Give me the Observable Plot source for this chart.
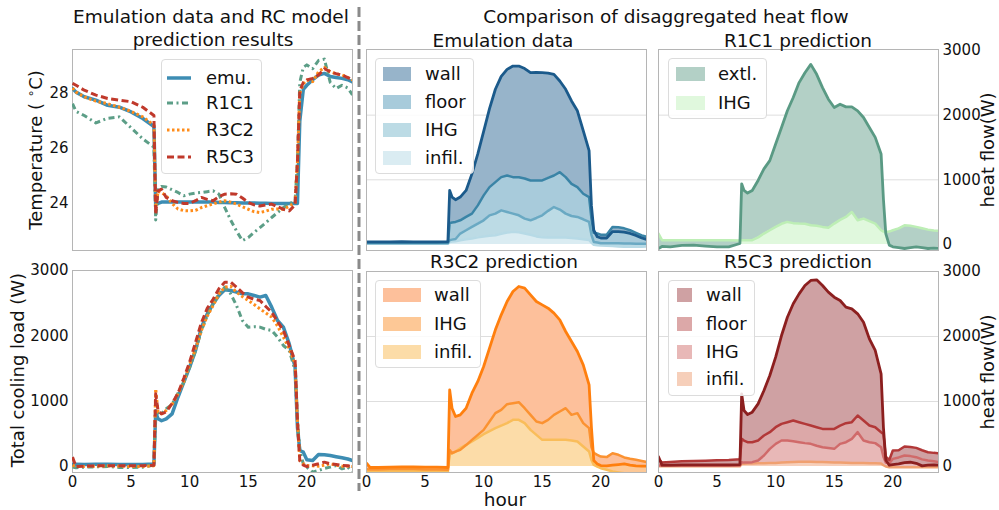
<!DOCTYPE html>
<html>
<head>
<meta charset="utf-8">
<script src="https://cdn.jsdelivr.net/npm/d3@7"></script>
<script src="https://cdn.jsdelivr.net/npm/@observablehq/plot@0.6"></script>
<style>
  html, body { margin: 0; padding: 0; background: white; }
  #root { position: relative; width: 999px; height: 510px; overflow: hidden; font-family: "DejaVu Sans", sans-serif; color: #111; }
  .ctr { position: absolute; transform: translate(-50%, -50%); white-space: nowrap; font-size: 18.5px; line-height: 1; }
  .rot { position: absolute; transform: translate(-50%, -50%) rotate(-90deg); white-space: nowrap; font-size: 18px; line-height: 1; }
  .legend { position: absolute; border: 1px solid #dcdcdc; border-radius: 4px; background: rgba(255,255,255,0.85); box-sizing: border-box; }
  .legend .txt { position: absolute; transform: translateY(-50%); font-size: 18px; white-space: nowrap; line-height: 1; }
  .legend .patch { position: absolute; transform: translateY(-50%); }
  .legend svg { position: absolute; overflow: visible; }
  .plotwrap { position: absolute; }
  .plotwrap svg { overflow: visible; background: transparent; }
</style>
</head>
<body>
<div id="root"></div>
<script>
// ---------------- DATA ----------------
const hours = [0, 0.3, 1, 2, 3, 4, 5, 6, 6.95, 7.1, 7.3, 7.6, 8, 8.5, 9, 9.5, 10, 10.5, 11, 11.5, 12, 12.5, 13, 13.5, 14, 14.5, 15, 15.5, 16, 16.5, 17, 17.5, 18, 18.5, 19, 19.2, 19.4, 19.7, 20, 20.5, 21, 21.5, 22, 22.5, 23, 23.5, 23.9];

// Temperature (°C)
const tempEmu  = [28.18, 28.05, 27.88, 27.76, 27.57, 27.5, 27.33, 27.09, 26.8, 23.95, 24.0, 24.05, 24.05, 24.05, 24.05, 24.05, 24.05, 24.05, 24.05, 24.05, 24.05, 24.04, 24.04, 24.03, 24.03, 24.02, 24.02, 24.02, 24.01, 24.01, 24.0, 24.0, 24.0, 24.0, 24.0, 24.0, 27.0, 28.15, 28.3, 28.5, 28.67, 28.73, 28.62, 28.58, 28.55, 28.5, 28.42];
const tempR1C1 = [27.63, 27.35, 27.2, 26.93, 27.1, 27.15, 26.75, 26.35, 26.05, 23.4, 24.55, 24.62, 24.6, 24.5, 24.4, 24.28, 24.34, 24.38, 24.4, 24.43, 24.46, 24.34, 23.85, 23.4, 23.0, 22.65, 22.76, 22.95, 23.12, 23.3, 23.49, 23.67, 23.85, 23.98, 24.1, 25.5, 28.4, 28.95, 29.04, 28.9, 29.2, 29.25, 28.4, 28.18, 28.3, 28.2, 27.95];
const tempR3C2 = [28.2, 28.05, 27.88, 27.72, 27.63, 27.5, 27.35, 27.15, 26.85, 23.85, 24.45, 24.4, 24.28, 24.0, 23.8, 23.74, 23.73, 23.75, 23.85, 23.92, 23.98, 24.05, 24.1, 24.05, 23.98, 23.88, 23.79, 23.7, 23.67, 23.72, 23.79, 23.8, 23.79, 23.9, 24.04, 25.5, 28.0, 28.35, 28.49, 28.43, 28.79, 28.95, 28.79, 28.72, 28.67, 28.58, 28.49];
const tempR5C3 = [28.37, 28.3, 28.12, 27.94, 27.82, 27.76, 27.7, 27.5, 27.2, 23.6, 24.46, 24.52, 24.22, 24.1, 24.04, 24.0, 24.0, 24.1, 24.22, 24.15, 24.1, 24.25, 24.34, 24.35, 24.34, 24.2, 24.04, 23.95, 23.91, 23.95, 23.98, 23.88, 23.79, 23.73, 23.95, 25.5, 28.1, 28.4, 28.49, 28.55, 28.67, 28.9, 28.79, 28.72, 28.67, 28.58, 28.49];

// Total cooling load (W)
const loadEmu  = [30, 35, 30, 35, 35, 30, 30, 30, 40, 830, 730, 700, 730, 806, 1060, 1290, 1520, 1775, 2130, 2335, 2490, 2617, 2704, 2694, 2668, 2643, 2643, 2617, 2592, 2617, 2439, 2235, 2133, 1877, 1520, 600, 245, 220, 102, 92, 184, 180, 168, 150, 133, 115, 92];
const loadR1C1 = [-10, -20, -10, -5, 0, -15, -15, -10, 20, 857, 820, 806, 883, 950, 1120, 1290, 1520, 1770, 2080, 2310, 2490, 2640, 2745, 2643, 2464, 2235, 2133, 2140, 2133, 2100, 2082, 1980, 1852, 1776, 1469, 700, 245, 41, -10, -87, -61, -30, -10, 15, -36, -10, -87];
const loadR3C2 = [20, 0, 0, 5, 10, 5, 0, 0, 10, 1189, 831, 806, 857, 950, 1110, 1300, 1560, 1800, 2080, 2300, 2464, 2640, 2745, 2760, 2668, 2600, 2541, 2480, 2413, 2350, 2286, 2150, 1980, 1800, 1571, 700, 92, 40, 15, 10, 5, 20, 41, 20, 5, 5, 0];
const loadR5C3 = [143, 0, 5, 10, 10, 10, 10, 10, 20, 1112, 857, 806, 836, 964, 1120, 1350, 1600, 1900, 2200, 2420, 2560, 2720, 2822, 2822, 2745, 2660, 2592, 2560, 2541, 2450, 2362, 2220, 2082, 1850, 1622, 700, 92, 20, 0, 20, 41, 66, 41, 30, 15, 10, 0];

// Emulation data: cumulative heat-flow boundaries (W)
const emuWallTop  = [41, 41, 41, 41, 45, 41, 41, 41, 45, 836, 733, 692, 733, 836, 1092, 1400, 1750, 2100, 2400, 2600, 2708, 2759, 2759, 2720, 2656, 2660, 2656, 2650, 2631, 2528, 2400, 2220, 2067, 1759, 1451, 600, 220, 120, 100, 100, 200, 200, 190, 170, 140, 100, 80];
const emuFloorTop = [30, 30, 30, 30, 30, 30, 30, 30, 30, 333, 340, 349, 374, 426, 477, 605, 759, 887, 964, 1041, 1067, 1041, 1041, 1020, 990, 990, 990, 1030, 1067, 1118, 1041, 938, 887, 785, 733, 400, 180, 170, 150, 150, 270, 265, 250, 220, 180, 140, 120];
const emuIHGTop   = [20, 20, 20, 20, 20, 20, 20, 20, 20, 67, 75, 85, 169, 220, 272, 323, 374, 450, 477, 528, 503, 477, 451, 400, 374, 410, 451, 520, 579, 540, 477, 440, 426, 390, 349, 150, 40, 30, 20, 20, 20, 20, 15, 15, 10, 10, 10];
const emuInfilTop = [10, 10, 10, 10, 10, 10, 10, 10, 10, 40, 45, 50, 65, 80, 92, 110, 125, 135, 144, 165, 185, 195, 190, 170, 150, 125, 110, 108, 108, 108, 108, 100, 92, 80, 70, 30, -5, -10, -15, -20, -25, -30, -36, -36, -36, -36, -30];

// R1C1 prediction
const r1ExtlTop = [-62, -30, -36, -15, -10, -25, -36, -36, 15, 938, 836, 795, 836, 990, 1169, 1297, 1554, 1810, 2067, 2272, 2503, 2656, 2785, 2631, 2426, 2246, 2118, 2169, 2128, 2128, 2067, 1964, 1810, 1656, 1400, 700, 169, -10, -36, -50, -62, -50, -36, -50, -62, -55, -62];
const r1IHGTop  = [169, 67, 67, 67, 67, 67, 67, 67, 60, 67, 67, 67, 67, 110, 169, 220, 272, 320, 349, 330, 323, 320, 297, 290, 272, 260, 323, 380, 426, 503, 374, 400, 360, 323, 220, 200, 195, 200, 220, 250, 297, 290, 272, 250, 230, 215, 210];

// R3C2 prediction
const r3WallTop  = [51, -15, -15, -10, -5, -5, -10, -10, -15, 1179, 897, 769, 795, 897, 1128, 1308, 1538, 1821, 2103, 2333, 2538, 2692, 2769, 2744, 2641, 2538, 2487, 2436, 2359, 2256, 2077, 1923, 1769, 1564, 1256, 600, 92, 40, 15, 10, 20, 30, 41, 20, 10, 5, 5];
const r3IHGTop   = [-40, -45, -45, -40, -35, -40, -45, -45, -50, 256, 205, 230, 256, 330, 410, 487, 564, 692, 821, 872, 959, 974, 990, 897, 795, 692, 667, 718, 795, 846, 897, 795, 821, 667, 590, 300, 210, 180, 154, 145, 205, 180, 140, 120, 103, 85, 70];
const r3InfilTop = [-70, -77, -77, -70, -60, -65, -70, -75, -77, 205, 200, 230, 282, 333, 385, 440, 497, 545, 590, 630, 667, 718, 718, 667, 564, 487, 410, 410, 410, 410, 410, 400, 385, 308, 231, 100, 26, 0, -26, -50, -77, -90, -103, -110, -115, -118, -120];

// R5C3 prediction
const r5WallTop  = [150, 20, 20, 25, 25, 25, 25, 25, 30, 1118, 862, 800, 836, 964, 1169, 1400, 1682, 2015, 2297, 2503, 2656, 2785, 2862, 2872, 2785, 2682, 2605, 2554, 2451, 2426, 2349, 2220, 1964, 1785, 1426, 600, 100, 20, 30, 40, 60, 66, 50, 10, 20, 25, 20];
const r5FloorTop = [120, 60, 70, 80, 85, 90, 95, 100, 110, 426, 400, 374, 374, 400, 477, 528, 605, 656, 682, 708, 682, 656, 631, 605, 579, 579, 579, 630, 667, 682, 785, 708, 631, 605, 528, 500, 150, 100, 246, 250, 308, 300, 287, 250, 220, 210, 205];
const r5IHGTop   = [15, 15, 15, 15, 15, 15, 15, 15, 15, 67, 60, 60, 67, 92, 169, 272, 349, 400, 400, 390, 374, 360, 349, 320, 297, 285, 272, 349, 374, 426, 528, 400, 374, 360, 297, 150, 60, 50, 118, 140, 169, 160, 144, 110, 92, 80, 67];
const r5InfilTop = [5, 5, 5, 5, 5, 5, 5, 5, 5, 41, 42, 45, 48, 50, 52, 54, 56, 60, 65, 70, 72, 72, 72, 70, 68, 65, 62, 60, 58, 56, 55, 53, 51, 50, 45, 20, 0, -10, -10, -10, -10, -10, -10, -10, -10, -10, -10];

// Ticks
const hourTicks = [0, 5, 10, 15, 20];
const tempTicks = [24, 26, 28];
const flowTicks = [0, 1000, 2000, 3000];
const flowGrid  = [1000, 2000];

// ---------------- DRAWING ----------------
const root = document.getElementById("root");
const FONT = "DejaVu Sans";
const xDomain = [0, 23.9];

function addPlot(frameLeft, frameTop, w, h, m, opts) {
  const svg = Plot.plot({
    width: w + m.l + m.r,
    height: h + m.t + m.b,
    marginLeft: m.l, marginRight: m.r, marginTop: m.t, marginBottom: m.b,
    style: { fontFamily: FONT, fontSize: "15px", color: "#111", background: "transparent", overflow: "visible" },
    x: Object.assign({ domain: xDomain, label: null, tickSize: 0, tickPadding: 4 }, opts.x),
    y: Object.assign({ label: null, tickSize: 0, tickPadding: 4 }, opts.y),
    marks: opts.marks
  });
  const wrap = document.createElement("div");
  wrap.className = "plotwrap";
  wrap.style.left = (frameLeft - m.l) + "px";
  wrap.style.top = (frameTop - m.t) + "px";
  wrap.appendChild(svg);
  root.appendChild(wrap);
}

const frameMark = () => Plot.frame({ stroke: "#b5b5b5", strokeWidth: 1 });
const gridMark = () => Plot.ruleY(flowGrid, { stroke: "#dedede", strokeWidth: 1 });

function line(ys, stroke, sw, dash) {
  const o = { x: hours, y: ys, stroke, strokeWidth: sw, strokeLinejoin: "round", strokeLinecap: dash ? "butt" : "round", clip: true };
  if (dash) o.strokeDasharray = dash;
  return Plot.line(hours, o);
}
function band(lo, hi, fill) {
  const o = { x: hours, y2: hi, fill, clip: true };
  if (lo) o.y1 = lo;
  return Plot.areaY(hours, o);
}

// colours
const C = {
  emu: "#3d8db3", r1: "#5c9e87", r3: "#ff8c1a", r5: "#c0392b",
  eWallF: "#97b4ca", eFloorF: "#a8cbdb", eIHGF: "#bcdbe5", eInfF: "#daecf2",
  eWallL: "#1b5a8b", eFloorL: "#3a84a6", eIHGL: "#6aa9c3", eInfL: "#b7dae6",
  r1ExtF: "#b3d0c6", r1IHGF: "#e0f8dd", r1ExtL: "#5a9a84", r1IHGL: "#bdeeb5",
  r3WallF: "#fdc09b", r3IHGF: "#fdc896", r3InfF: "#fcdca8",
  r3WallL: "#ff7f0e", r3IHGL: "#fb9231", r3InfL: "#f9bd5a",
  r5WallF: "#cfa1a3", r5FloorF: "#dca8a8", r5IHGF: "#e8b8b7", r5InfF: "#f6cfba",
  r5WallL: "#8c1f1f", r5FloorL: "#b23838", r5IHGL: "#d06a6a", r5InfL: "#f0a070"
};

// Panel 1: temperature
addPlot(72, 49, 280, 201, { l: 40, r: 4, t: 4, b: 4 }, {
  x: { axis: null },
  y: { domain: [22.29, 29.6], ticks: tempTicks, tickFormat: d => String(d) },
  marks: [
    frameMark(),
    line(tempEmu, C.emu, 3.5),
    line(tempR1C1, C.r1, 3, "6,3.5,2,3.5"),
    line(tempR3C2, C.r3, 3, "2.5,2.5"),
    line(tempR5C3, C.r5, 3, "7,3.5")
  ]
});

// Panel 2: cooling load
addPlot(72, 270, 280, 202, { l: 50, r: 4, t: 4, b: 22 }, {
  x: { ticks: hourTicks, tickFormat: d => String(d) },
  y: { domain: [-92, 3000], ticks: flowTicks, tickFormat: d => String(d) },
  marks: [
    frameMark(),
    line(loadEmu, C.emu, 3.5),
    line(loadR1C1, C.r1, 3, "6,3.5,2,3.5"),
    line(loadR3C2, C.r3, 3, "2.5,2.5"),
    line(loadR5C3, C.r5, 3, "7,3.5")
  ]
});

// Panel 3: emulation data
addPlot(366, 49, 280, 201, { l: 4, r: 4, t: 4, b: 4 }, {
  x: { axis: null },
  y: { domain: [-93, 3015], axis: null },
  marks: [
    gridMark(),
    band(null, emuInfilTop, C.eInfF),
    band(emuInfilTop, emuIHGTop, C.eIHGF),
    band(emuIHGTop, emuFloorTop, C.eFloorF),
    band(emuFloorTop, emuWallTop, C.eWallF),
    line(emuInfilTop, C.eInfL, 2.5),
    line(emuIHGTop, C.eIHGL, 2.5),
    line(emuFloorTop, C.eFloorL, 2.5),
    line(emuWallTop, C.eWallL, 2.8),
    frameMark()
  ]
});

// Panel 4: R1C1 prediction
addPlot(658, 49, 280, 201, { l: 4, r: 50, t: 4, b: 4 }, {
  x: { axis: null },
  y: { domain: [-93, 3015], axis: "right", ticks: flowTicks, tickFormat: d => String(d) },
  marks: [
    gridMark(),
    band(null, r1IHGTop, C.r1IHGF),
    band(r1IHGTop, r1ExtlTop, C.r1ExtF),
    line(r1IHGTop, C.r1IHGL, 2.5),
    line(r1ExtlTop, C.r1ExtL, 2.8),
    frameMark()
  ]
});

// Panel 5: R3C2 prediction
addPlot(366, 271, 280, 201, { l: 4, r: 4, t: 4, b: 22 }, {
  x: { ticks: hourTicks, tickFormat: d => String(d) },
  y: { domain: [-92, 3000], axis: null },
  marks: [
    gridMark(),
    band(null, r3InfilTop, C.r3InfF),
    band(r3InfilTop, r3IHGTop, C.r3IHGF),
    band(r3IHGTop, r3WallTop, C.r3WallF),
    line(r3InfilTop, C.r3InfL, 2.5),
    line(r3IHGTop, C.r3IHGL, 2.5),
    line(r3WallTop, C.r3WallL, 2.8),
    frameMark()
  ]
});

// Panel 6: R5C3 prediction
addPlot(658, 271, 280, 201, { l: 4, r: 50, t: 4, b: 22 }, {
  x: { ticks: hourTicks, tickFormat: d => String(d) },
  y: { domain: [-92, 3000], axis: "right", ticks: flowTicks, tickFormat: d => String(d) },
  marks: [
    gridMark(),
    band(null, r5InfilTop, C.r5InfF),
    band(r5InfilTop, r5IHGTop, C.r5IHGF),
    band(r5IHGTop, r5FloorTop, C.r5FloorF),
    band(r5FloorTop, r5WallTop, C.r5WallF),
    line(r5InfilTop, C.r5InfL, 2.5),
    line(r5IHGTop, C.r5IHGL, 2.5),
    line(r5FloorTop, C.r5FloorL, 2.5),
    line(r5WallTop, C.r5WallL, 2.8),
    frameMark()
  ]
});

// ---------------- TEXT ----------------
function text(cls, x, y, html, size) {
  const d = document.createElement("div");
  d.className = cls;
  d.style.left = x + "px";
  d.style.top = y + "px";
  if (size) d.style.fontSize = size + "px";
  d.innerHTML = html;
  root.appendChild(d);
}
text("ctr", 211, 17, "Emulation data and RC model");
text("ctr", 213, 40, "prediction results");
text("ctr", 666, 17, "Comparison of disaggregated heat flow");
text("ctr", 503, 41, "Emulation data");
text("ctr", 798, 41, "R1C1 prediction");
text("ctr", 504, 262, "R3C2 prediction");
text("ctr", 798, 262, "R5C3 prediction");
text("ctr", 505, 500, "hour");
text("rot", 36, 150, 'Temperature ( <span style="font-size:12px;position:relative;top:-7px">∘</span>C)');
text("rot", 18, 370, "Total cooling load (W)");
text("rot", 988, 150, "heat flow(W)");
text("rot", 988, 372, "heat flow(W)");

// dashed separator
const sep = d3.select(root).append("svg")
  .attr("width", 999).attr("height", 510)
  .style("position", "absolute").style("left", 0).style("top", 0).style("pointer-events", "none");
sep.append("line").attr("x1", 359).attr("x2", 359).attr("y1", 7).attr("y2", 491)
  .attr("stroke", "#8a8a8a").attr("stroke-width", 3).attr("stroke-dasharray", "10,4");

// ---------------- LEGENDS ----------------
function legend(x, y, w, h, items) {
  const box = document.createElement("div");
  box.className = "legend";
  Object.assign(box.style, { left: x + "px", top: y + "px", width: w + "px", height: h + "px" });
  items.forEach(it => {
    if (it.patch) {
      const p = document.createElement("div");
      p.className = "patch";
      Object.assign(p.style, { left: it.px + "px", top: it.cy + "px", width: it.pw + "px", height: "14px", background: it.patch });
      box.appendChild(p);
    } else {
      const s = d3.select(box).append("svg").attr("width", 26).attr("height", 8)
        .style("left", it.px + "px").style("top", (it.cy - 4) + "px");
      const l = s.append("line").attr("x1", 0).attr("x2", 24).attr("y1", 4).attr("y2", 4)
        .attr("stroke", it.stroke).attr("stroke-width", it.sw);
      if (it.dash) l.attr("stroke-dasharray", it.dash);
    }
    const t = document.createElement("div");
    t.className = "txt";
    t.style.left = it.tx + "px";
    t.style.top = it.cy + "px";
    t.textContent = it.label;
    box.appendChild(t);
  });
  root.appendChild(box);
}
const seriesNames = ["emu.", "R1C1", "R3C2", "R5C3"];
legend(161, 59, 101, 115, [
  { label: seriesNames[0], stroke: C.emu, sw: 3.5, px: 5, tx: 44, cy: 18 },
  { label: seriesNames[1], stroke: C.r1, sw: 3, dash: "6,3.5,2,3.5", px: 5, tx: 44, cy: 43 },
  { label: seriesNames[2], stroke: C.r3, sw: 3, dash: "2.5,2.5", px: 5, tx: 44, cy: 70 },
  { label: seriesNames[3], stroke: C.r5, sw: 3, dash: "7,3.5", px: 5, tx: 44, cy: 97 }
]);
legend(375, 58, 99, 116, [
  { label: "wall", patch: C.eWallF, px: 7, pw: 28, tx: 49, cy: 15 },
  { label: "floor", patch: C.eFloorF, px: 7, pw: 28, tx: 49, cy: 43 },
  { label: "IHG", patch: C.eIHGF, px: 7, pw: 28, tx: 49, cy: 71 },
  { label: "infil.", patch: C.eInfF, px: 7, pw: 28, tx: 49, cy: 99 }
]);
legend(668, 58, 99, 61, [
  { label: "extl.", patch: C.r1ExtF, px: 7, pw: 29, tx: 49, cy: 15 },
  { label: "IHG", patch: C.r1IHGF, px: 7, pw: 29, tx: 49, cy: 44 }
]);
legend(375, 280, 106, 88, [
  { label: "wall", patch: C.r3WallF, px: 7, pw: 38, tx: 58, cy: 14 },
  { label: "IHG", patch: C.r3IHGF, px: 7, pw: 38, tx: 58, cy: 43 },
  { label: "infil.", patch: C.r3InfF, px: 7, pw: 38, tx: 58, cy: 71 }
]);
legend(668, 280, 87, 116, [
  { label: "wall", patch: C.r5WallF, px: 8, pw: 15, tx: 37, cy: 14 },
  { label: "floor", patch: C.r5FloorF, px: 8, pw: 15, tx: 37, cy: 43 },
  { label: "IHG", patch: C.r5IHGF, px: 7 + 1, pw: 15, tx: 37, cy: 71 },
  { label: "infil.", patch: C.r5InfF, px: 8, pw: 15, tx: 37, cy: 98 }
]);
</script>
</body>
</html>
